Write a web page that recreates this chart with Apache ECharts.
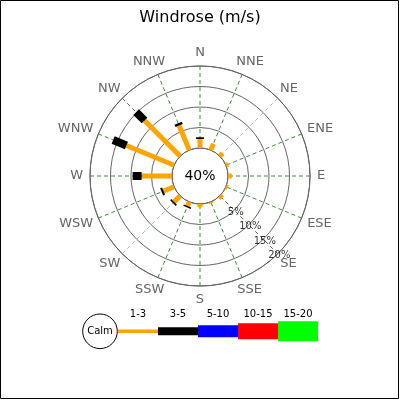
<!DOCTYPE html>
<html>
<head>
<meta charset="utf-8">
<script src="https://cdn.jsdelivr.net/npm/echarts@6/dist/echarts.min.js"></script>
<style>
html, body { margin: 0; padding: 0; background: #fff; }
#chart { width: 400px; height: 400px; }
</style>
</head>
<body>
<div id="chart"></div>
<script>
// compass directions, clockwise from north
const directions = ['N', 'NNE', 'NE', 'ENE', 'E', 'ESE', 'SE', 'SSE', 'S', 'SSW', 'SW', 'WSW', 'W', 'WNW', 'NW', 'NNW'];
// % of time per direction for each speed range (m/s)
const range1to3 = [2.2, 1.7, 1.0, 0.6, 0.9, 0.5, 0.8, 0.4, 0.8, 1.1, 2.1, 2.8, 7.4, 12.6, 12.3, 6.5];
const range3to5 = [0.4, 0, 0, 0, 0, 0, 0, 0, 0, 0.35, 0.4, 0.5, 2.2, 3.5, 2.9, 0.6];
const calmPct = 40;
const ringTicks = [5, 10, 15, 20];
const legendRanges = ['1-3', '3-5', '5-10', '10-15', '15-20'];

const FONT = '"DejaVu Sans", sans-serif';
const center = [200, 176];
const rangeColors = ['#ffa500', '#000000', '#0000ff', '#ff0000', '#00ff00'];
const legendThick = [3.5, 8, 12, 16, 20];

const myChart = echarts.init(document.getElementById('chart'));

const series = [];
directions.forEach(function (d, i) {
    const ang = i * 22.5;
    const v1 = range1to3[i];
    const v2 = v1 + range3to5[i];
    series.push({
        type: 'line',
        coordinateSystem: 'polar',
        data: [[0, ang], [v1, ang]],
        symbol: 'none',
        silent: true,
        lineStyle: { color: rangeColors[0], width: 5, cap: 'butt' },
        z: 3
    });
    if (range3to5[i] > 0) {
        series.push({
            type: 'line',
            coordinateSystem: 'polar',
            data: [[v1, ang], [v2, ang]],
            symbol: 'none',
            silent: true,
            lineStyle: { color: rangeColors[1], width: 8, cap: 'butt' },
            z: 4
        });
    }
});

// ring labels along the SE spoke
series.push({
    type: 'scatter',
    coordinateSystem: 'polar',
    symbolSize: 1,
    silent: true,
    itemStyle: { color: 'transparent' },
    data: ringTicks.map(function (v) { return [v, 135]; }),
    label: {
        show: true,
        position: 'inside',
        offset: [1.5, 2],
        formatter: function (p) { return p.value[0] + '%'; },
        color: '#000',
        fontSize: 10,
        fontFamily: FONT
    },
    z: 5
});

// spoke colours: NE and SW spokes are paler
const spokeColors = directions.map(function (d) {
    return (d === 'NE' || d === 'SW') ? '#a2c8a2' : '#3f873f';
});

// compass labels, pushed out so the text box clears the outer ring
const ctx = document.createElement('canvas').getContext('2d');
ctx.font = '13px ' + FONT;
const labelR0 = 117;
const graphics = directions.map(function (d, i) {
    const t = i * 22.5 * Math.PI / 180;
    const s = Math.sin(t), c = Math.cos(t);
    const w = ctx.measureText(d).width;
    return {
        type: 'text',
        x: center[0] + (labelR0 + w / 2) * s,
        y: center[1] - (labelR0 + 6.5) * c,
        style: { text: d, fill: '#666', font: '13px ' + FONT, align: 'center', verticalAlign: 'middle' },
        silent: true
    };
});

graphics.push({
    type: 'text',
    x: center[0],
    y: center[1],
    style: { text: calmPct + '%', fill: '#000', font: '14px ' + FONT, align: 'center', verticalAlign: 'middle' },
    z: 10
});

// legend
const legY = 331.3;
graphics.push({
    type: 'circle',
    shape: { cx: 100, cy: legY, r: 17.3 },
    style: { fill: '#fff', stroke: '#000', lineWidth: 1 }
});
graphics.push({
    type: 'text', x: 100, y: legY,
    style: { text: 'Calm', fill: '#000', font: '10px ' + FONT, align: 'center', verticalAlign: 'middle' }
});
legendRanges.forEach(function (lab, i) {
    graphics.push({
        type: 'rect',
        shape: { x: 118 + i * 40, y: legY - legendThick[i] / 2, width: 40, height: legendThick[i] },
        style: { fill: rangeColors[i] }
    });
    graphics.push({
        type: 'text', x: 138 + i * 40, y: 314,
        style: { text: lab, fill: '#000', font: '10px ' + FONT, align: 'center', verticalAlign: 'middle' }
    });
});

// outer frame
graphics.push({
    type: 'rect',
    shape: { x: 0.5, y: 0.5, width: 398, height: 398 },
    style: { fill: null, stroke: '#000', lineWidth: 1 },
    z: 20
});

const option = {
    animation: false,
    backgroundColor: '#fff',
    title: {
        text: 'Windrose (m/s)',
        left: 'center',
        top: 10,
        padding: 0,
        textStyle: { fontSize: 16, fontWeight: 'normal', color: '#000', fontFamily: FONT }
    },
    polar: { center: center, radius: [28, 110] },
    angleAxis: {
        type: 'value',
        min: 0,
        max: 360,
        interval: 22.5,
        startAngle: 90,
        clockwise: true,
        axisLine: { show: true, lineStyle: { color: '#666', width: 1 } },
        axisTick: { show: false },
        axisLabel: { show: false },
        splitLine: { show: true, lineStyle: { color: spokeColors, type: [4, 3], width: 1 } }
    },
    radiusAxis: {
        type: 'value',
        min: 0,
        max: 20,
        interval: 5,
        axisLine: { show: false },
        axisTick: { show: false },
        axisLabel: { show: false },
        splitLine: { show: true, lineStyle: { color: '#666', width: 1 } }
    },
    graphic: graphics,
    series: series
};
myChart.setOption(option);
</script>
</body>
</html>
